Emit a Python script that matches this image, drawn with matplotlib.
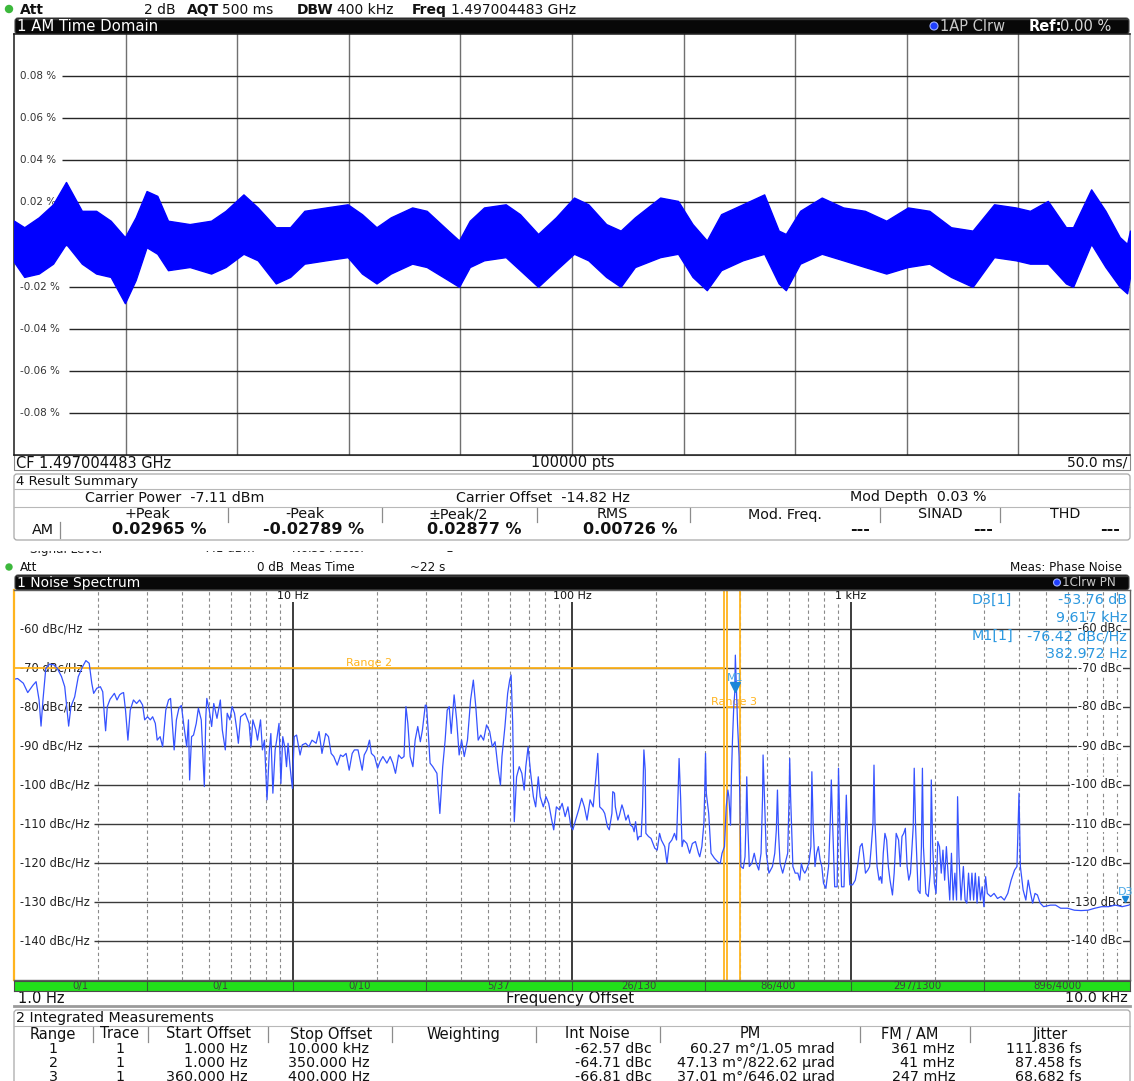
import matplotlib
matplotlib.use('Agg')
import matplotlib.pyplot as plt
from matplotlib import font_manager
from matplotlib.patches import Rectangle, FancyBboxPatch, Circle
from matplotlib.transforms import offset_copy

# ---------------- data ----------------
# AM time domain: envelope of the noisy trace (ms, % upper, % lower)
am_t = [0, 4.6, 11.1, 17.5, 23.3, 30.4, 36.8, 43.3, 49.7, 54.5,
        59.4, 64.2, 69.0, 78.7, 88.3, 94.8, 102.8, 109.2, 117.3, 123.7,
        130.1, 139.8, 149.5, 155.9, 162.4, 168.8, 178.4, 184.9, 194.5, 199.4,
        204.2, 210.6, 220.3, 226.7, 234.8, 242.8, 250.9, 257.3, 265.3, 271.8,
        278.2, 289.5, 297.5, 304.0, 310.4, 316.8, 326.5, 336.1, 342.6, 345.8,
        352.2, 361.9, 371.5, 381.2, 390.8, 400.5, 410.1, 419.8, 429.5, 439.1,
        448.8, 455.2, 463.2, 471.3, 474.5, 482.6, 489.0, 495.4, 498.7, 500]
am_hi = [0.0113, 0.0082, 0.0129, 0.0191, 0.0297, 0.0160, 0.0160, 0.0113, 0.0035, 0.0129,
         0.0254, 0.0231, 0.0113, 0.0097, 0.0113, 0.0160, 0.0238, 0.0176, 0.0082, 0.0082,
         0.0160, 0.0176, 0.0191, 0.0144, 0.0082, 0.0129, 0.0176, 0.0160, 0.0066, 0.0019,
         0.0113, 0.0176, 0.0191, 0.0144, 0.0050, 0.0129, 0.0223, 0.0191, 0.0097, 0.0066,
         0.0129, 0.0223, 0.0207, 0.0097, 0.0019, 0.0144, 0.0191, 0.0238, 0.0066, 0.0050,
         0.0160, 0.0223, 0.0176, 0.0160, 0.0113, 0.0176, 0.0160, 0.0082, 0.0066, 0.0191,
         0.0176, 0.0160, 0.0207, 0.0082, 0.0082, 0.0262, 0.0160, 0.0035, 0.0003, 0.0066]
am_lo = [-0.0083, -0.0154, -0.0138, -0.0091, 0.0003, -0.0091, -0.0138, -0.0154, -0.0279, -0.0169,
         -0.0013, -0.0044, -0.0122, -0.0107, -0.0138, -0.0107, -0.0044, -0.0075, -0.0185, -0.0154,
         -0.0091, -0.0075, -0.0060, -0.0138, -0.0185, -0.0138, -0.0091, -0.0107, -0.0169, -0.0201,
         -0.0107, -0.0075, -0.0060, -0.0122, -0.0201, -0.0122, -0.0044, -0.0075, -0.0154, -0.0201,
         -0.0107, -0.0060, -0.0044, -0.0154, -0.0217, -0.0122, -0.0075, -0.0044, -0.0185, -0.0217,
         -0.0091, -0.0044, -0.0075, -0.0107, -0.0138, -0.0107, -0.0091, -0.0154, -0.0201, -0.0060,
         -0.0075, -0.0091, -0.0091, -0.0185, -0.0201, 0.0003, -0.0107, -0.0201, -0.0232, -0.0154]
am_grid = [0.08, 0.06, 0.04, 0.02, 0.0, -0.02, -0.04, -0.06, -0.08]

# Phase noise spectrum (Hz, dBc/Hz)
pn_freq = [
    1.00, 1.03, 1.08, 1.12, 1.17, 1.20, 1.23, 1.25, 1.27, 1.30,
    1.34, 1.39, 1.43, 1.48, 1.52, 1.55, 1.57, 1.60, 1.65, 1.70,
    1.76, 1.81, 1.86, 1.90, 1.93, 1.98, 2.04, 2.08, 2.11, 2.13,
    2.16, 2.21, 2.29, 2.34, 2.39, 2.43, 2.47, 2.51, 2.56, 2.61,
    2.68, 2.75, 2.82, 2.89, 2.94, 3.01, 3.08, 3.14, 3.21, 3.26,
    3.34, 3.41, 3.50, 3.58, 3.64, 3.70, 3.75, 3.82, 3.90, 3.98,
    4.06, 4.16, 4.22, 4.26, 4.33, 4.40, 4.50, 4.58, 4.69, 4.81,
    4.87, 4.91, 5.01, 5.11, 5.20, 5.34, 5.49, 5.58, 5.72, 5.81,
    5.94, 6.05, 6.17, 6.29, 6.37, 6.49, 6.74, 6.96, 7.07, 7.18,
    7.36, 7.46, 7.65, 7.77, 7.90, 8.07, 8.23, 8.33, 8.47, 8.63,
    8.74, 8.91, 9.05, 9.19, 9.34, 9.48, 9.60, 9.76, 9.95, 10.1,
    10.3, 10.6, 10.8, 11.1, 11.4, 11.7, 12.1, 12.4, 12.7, 13.1,
    13.4, 13.7, 14.0, 14.4, 14.8, 15.1, 15.5, 15.9, 16.3, 16.6,
    17.1, 17.7, 18.0, 18.4, 18.8, 19.1, 19.6, 20.1, 20.5, 21.0,
    21.7, 22.3, 22.8, 23.3, 23.9, 24.5, 25.0, 25.4, 25.8, 26.3,
    26.9, 27.4, 28.0, 28.6, 29.1, 29.8, 30.1, 30.5, 31.0, 31.7,
    32.8, 33.6, 34.4, 35.1, 35.7, 36.3, 36.9, 37.8, 38.6, 39.4,
    40.2, 41.1, 42.2, 43.3, 44.3, 45.2, 46.1, 47.1, 48.2, 49.4,
    50.7, 51.8, 53.0, 54.4, 55.4, 56.1, 57.5, 58.8, 59.8, 60.5,
    61.3, 62.1, 63.3, 64.7, 66.1, 67.4, 68.3, 69.6, 71.1, 72.7,
    74.1, 75.7, 76.9, 78.9, 80.7, 82.5, 84.6, 86.0, 87.9, 90.2,
    92.2, 94.5, 96.7, 99.1, 100.7, 103.0, 105.6, 108.3, 110.7, 113.2,
    116.1, 119.1, 121.8, 123.7, 125.7,
    129, 131, 134, 136, 139, 140, 142, 143, 146, 148,
    151, 153, 156, 159, 162, 165, 167, 169, 172, 174,
    177, 179, 181, 183, 184, 188, 192, 198, 202, 206,
    209, 215, 219, 223, 228, 233, 237, 240, 242, 245,
    248, 251, 258, 264, 270, 277, 284, 287, 292, 297,
    299, 301, 303, 309, 315, 324, 333, 340, 345, 352,
    357, 362, 365, 370, 373, 376, 380, 383, 385, 389,
    392, 397, 400, 403, 411, 417, 421, 423, 427, 432,
    441, 450, 458, 467, 476, 482, 484, 490, 497, 508,
    523, 533, 540, 545, 550, 557, 569, 585, 593, 600,
    603, 608, 619, 631, 645, 655, 664, 673, 683, 692,
    706, 718, 724, 732, 743, 753, 764, 775, 786, 797,
    813, 831, 843, 850, 860, 874, 892, 902, 912, 925,
    944, 962, 973, 990, 1013, 1036, 1056, 1078, 1096, 1108,
    1127, 1149, 1166, 1182, 1199, 1209, 1219, 1240, 1261, 1276,
    1290, 1305, 1323, 1342, 1361, 1380, 1408, 1428, 1452, 1481,
    1502, 1523, 1545, 1566, 1589, 1611, 1634, 1671, 1685, 1704,
    1739, 1768, 1788, 1803, 1818, 1855, 1892, 1924, 1940, 1962,
    1990, 2018, 2047, 2076, 2106, 2136, 2166, 2197, 2228, 2259,
    2291, 2324, 2357, 2390, 2410, 2438, 2479, 2528, 2564, 2601,
    2638, 2675, 2713, 2751, 2790, 2830, 2871, 2911, 2952, 2994,
    3037, 3080, 3168, 3257, 3350, 3446, 3544, 3647, 3750, 3857,
    3934, 4001, 4047, 4139, 4233, 4317, 4403, 4478, 4567, 4658,
    4765, 4901, 5186, 5409, 5643, 5971, 6316, 6683, 7070, 7478,
    7913, 8371, 8855, 9370, 9911, 10000]
pn_dbc = [
    -72.9, -72.7, -73.9, -76.3, -74.4, -73.5, -78.2, -84.9, -78.2, -70.1,
    -69.0, -69.2, -70.1, -72.2, -74.8, -80.8, -84.9, -79.9, -77.4, -72.2,
    -69.7, -68.1, -68.8, -73.9, -76.5, -75.2, -74.8, -76.1, -82.5, -86.1,
    -79.9, -78.0, -76.5, -78.2, -76.9, -76.5, -76.3, -80.8, -88.5, -80.8,
    -78.2, -79.1, -78.2, -79.5, -83.3, -82.5, -83.3, -82.5, -84.2, -88.5,
    -87.6, -90.2, -80.8, -78.2, -77.8, -85.0, -91.0, -83.3, -80.3, -79.6,
    -84.6, -90.2, -83.3, -98.7, -87.6, -87.2, -84.2, -80.3, -83.3, -100.4,
    -82.5, -77.8, -80.8, -85.0, -79.1, -82.9, -78.2, -85.9, -91.0, -81.6,
    -83.3, -79.9, -81.6, -85.9, -89.3, -82.5, -81.6, -84.2, -90.2, -83.3,
    -85.9, -88.5, -83.3, -91.0, -88.5, -103.8, -91.0, -86.8, -102.1, -91.0,
    -88.5, -84.2, -99.6, -87.6, -90.2, -95.3, -89.3, -95.3, -100.9, -87.6,
    -87.2, -92.3, -89.7, -89.3, -90.2, -88.5, -89.3, -86.3, -91.9, -86.8,
    -87.6, -91.9, -92.7, -94.9, -92.3, -92.7, -91.9, -96.2, -91.9, -91.0,
    -91.0, -96.2, -92.3, -91.0, -88.5, -91.9, -92.7, -95.7, -94.0, -92.7,
    -94.4, -92.7, -94.4, -97.0, -92.3, -93.2, -92.7, -79.9, -84.2, -92.7,
    -95.3, -88.5, -85.0, -88.9, -85.9, -79.5, -79.7, -85.9, -94.4, -95.3,
    -97.0, -107.3, -95.3, -88.5, -80.8, -79.9, -86.8, -76.9, -83.3, -92.3,
    -88.5, -92.7, -88.5, -78.2, -73.1, -79.9, -88.5, -87.2, -88.5, -84.6,
    -86.3, -90.2, -88.9, -96.2, -100.0, -92.7, -85.0, -76.5, -73.1, -71.8,
    -84.2, -109.4, -97.9, -95.3, -97.0, -101.3, -95.3, -90.2, -97.0, -103.0,
    -105.6, -97.9, -103.0, -105.6, -103.0, -104.7, -109.0, -111.5, -105.6, -106.4,
    -104.7, -108.1, -105.6, -110.7, -111.5, -109.0, -106.4, -103.4, -105.6, -109.0,
    -103.8, -105.6, -97.9, -91.9, -105.6,
    -106.4, -107.3, -110.7, -111.5, -107.3, -101.7, -102.1, -105.6, -109.0, -107.7,
    -105.1, -106.4, -109.0, -107.7, -110.3, -110.7, -112.0, -109.4, -114.1, -113.2,
    -113.2, -105.6, -91.0, -96.2, -112.4, -113.2, -113.7, -116.2, -116.7, -112.4,
    -114.1, -115.8, -120.1, -115.0, -114.1, -112.4, -114.1, -102.1, -93.2, -103.0,
    -115.8, -114.1, -115.0, -117.5, -115.0, -114.5, -117.5, -118.4, -115.8, -109.8,
    -101.7, -91.9, -102.1, -107.3, -117.5, -118.8, -119.7, -120.1, -117.5, -115.8,
    -105.6, -101.3, -103.0, -110.3, -97.0, -88.5, -79.9, -76.5, -66.7, -76.5,
    -84.2, -92.7, -105.6, -120.9, -121.4, -118.4, -107.3, -97.9, -110.7, -120.9,
    -120.1, -117.5, -120.1, -121.8, -117.5, -103.0, -92.3, -103.8, -117.5, -122.6,
    -120.9, -117.5, -111.5, -101.3, -112.4, -120.1, -122.6, -119.2, -117.5, -103.0,
    -93.2, -103.8, -120.9, -122.6, -122.6, -124.4, -120.1, -121.8, -122.6, -121.8,
    -120.1, -115.8, -96.6, -110.7, -120.9, -117.5, -115.8, -119.2, -120.9, -125.2,
    -126.5, -120.9, -109.0, -98.7, -110.7, -126.1, -126.1, -95.7, -110.7, -126.1,
    -126.1, -102.6, -114.1, -125.6, -125.6, -124.4, -120.9, -115.8, -115.0, -117.5,
    -122.6, -121.8, -120.9, -115.8, -109.8, -94.9, -109.8, -120.9, -124.4, -123.5,
    -125.2, -117.5, -112.4, -114.1, -120.9, -124.4, -128.2, -122.6, -112.4, -114.1,
    -120.9, -113.2, -112.4, -111.1, -120.9, -124.4, -122.6, -110.7, -95.7, -110.7,
    -127.0, -127.8, -115.8, -95.7, -115.8, -127.8, -128.6, -122.6, -98.7, -115.8,
    -125.2, -127.8, -114.5, -115.8, -122.6, -116.7, -124.4, -115.8, -122.6, -129.5,
    -117.5, -129.5, -122.6, -129.5, -103.0, -118.4, -129.5, -120.9, -129.5, -130.3,
    -122.6, -129.5, -122.6, -129.5, -122.6, -130.3, -123.5, -129.5, -126.1, -131.2,
    -123.5, -127.8, -128.6, -127.8, -129.1, -128.6, -129.5, -127.8, -124.4, -121.8,
    -120.9, -102.1, -120.9, -126.9, -129.5, -124.4, -127.8, -130.3, -127.8, -128.2,
    -130.3, -131.2, -130.8, -130.8, -131.6, -131.6, -132.1, -132.2, -132.1, -131.6,
    -131.2, -131.2, -130.8, -131.2, -130.8, -130.6]
pn_grid = [-60, -70, -80, -90, -100, -110, -120, -130, -140]
decades = [10, 100, 1000]
decade_labels = ['10 Hz', '100 Hz', '1 kHz']

range_start = [1, 1, 360]
range_stop = [10000, 350, 400]
range_level = [-50, -70, -80]
range_names = ['Range 1', 'Range 2', 'Range 3']

m1_freq, m1_dbc = 382.972, -76.42
d3_freq, d3_delta = 9617, -53.76

seg_edges = [1, 3, 10, 30, 100, 300, 1000, 3000, 10000]
seg_labels = ['0/1', '0/1', '0/10', '5/37', '26/130', '86/400', '297/1300', '896/4000']

sum_head = ['+Peak', '-Peak', '±Peak/2', 'RMS', 'Mod. Freq.', 'SINAD', 'THD']
sum_vals = ['0.02965 %', '-0.02789 %', '0.02877 %', '0.00726 %', '---', '---', '---']

int_head = ['Range', 'Trace', 'Start Offset', 'Stop Offset', 'Weighting',
            'Int Noise', 'PM', 'FM / AM', 'Jitter']
int_range = ['1', '2', '3']
int_trace = ['1', '1', '1']
int_start = ['1.000 Hz', '1.000 Hz', '360.000 Hz']
int_stop = ['10.000 kHz', '350.000 Hz', '400.000 Hz']
int_weight = ['', '', '']
int_noise = ['-62.57 dBc', '-64.71 dBc', '-66.81 dBc']
int_pm = ['60.27 m°/1.05 mrad', '47.13 m°/822.62 µrad', '37.01 m°/646.02 µrad']
int_fmam = ['361 mHz', '41 mHz', '247 mHz']
int_jitter = ['111.836 fs', '87.458 fs', '68.682 fs']

# ---------------- figure / fonts ----------------
W, H = 1134, 1081
fig = plt.figure(figsize=(W / 100, H / 100), dpi=100)
fig.patch.set_facecolor('white')

# condensed face for the small status line of the phase noise app
NF = {'family': 'DejaVu Sans', 'fontstretch': 'condensed'}

bg = fig.add_axes([0, 0, 1, 1], zorder=0)
bg.set_xlim(0, W)
bg.set_ylim(H, 0)
bg.axis('off')
fg = fig.add_axes([0, 0, 1, 1], zorder=10)
fg.set_xlim(0, W)
fg.set_ylim(H, 0)
fg.axis('off')
fg.patch.set_alpha(0)


def px_rect(x0, y0, x1, y1):
    return [x0 / W, 1 - y1 / H, (x1 - x0) / W, (y1 - y0) / H]


def txt(ax, x, y, s, ha='left', size=10, color='#111111', weight='normal', narrow=False, **kw):
    props = dict(NF) if narrow else {'family': 'DejaVu Sans'}
    return ax.text(x, y, s, ha=ha, va='center', fontsize=size, color=color,
                   fontweight=weight, **props, **kw)


def title_bar(y0, y1):
    bg.add_patch(FancyBboxPatch((15, y0), 1114, y1 - y0,
                                boxstyle='round,pad=0,rounding_size=3',
                                fc='#080808', ec='#444444', lw=0.8))
    bg.plot([17, 1127], [y0 + 1, y0 + 1], color='#3a3a3a', lw=1.0)


# ---------------- top header ----------------
bg.add_patch(Circle((9, 9), 3.5, color='#3cb83c'))
txt(bg, 20, 10, 'Att', size=10, weight='bold')
txt(bg, 176, 10, '2 dB', ha='right', size=10)
txt(bg, 187, 10, 'AQT', size=10, weight='bold')
txt(bg, 222, 10, '500 ms', size=10)
txt(bg, 297, 10, 'DBW', size=10, weight='bold')
txt(bg, 337, 10, '400 kHz', size=10)
txt(bg, 412, 10, 'Freq', size=10, weight='bold')
txt(bg, 451, 10, '1.497004483 GHz', size=10)

title_bar(18, 34)
txt(bg, 17, 26.5, '1 AM Time Domain', size=10.7, color='white')
bg.add_patch(Circle((934, 26), 4, fc='#2040ff', ec='#9fb0ff', lw=0.8))
txt(bg, 940, 26.5, '1AP Clrw', size=10.5, color='#c8c8c8')
txt(bg, 1029, 26.5, 'Ref:', size=10.5, color='white', weight='bold')
txt(bg, 1060, 26.5, '0.00 %', size=10.5, color='#d8d8d8')

# ---------------- AM time domain plot ----------------
ax1 = fig.add_axes(px_rect(14, 34, 1130, 455), zorder=1)
ax1.set_xlim(0, 500)
ax1.set_ylim(-0.1, 0.1)
ax1.tick_params(which='both', length=0, labelbottom=False, labelleft=False)
for sp in ax1.spines.values():
    sp.set_color('#1a1a1a')
    sp.set_linewidth(1.1)
ax1.spines['right'].set_color('#9a9a9a')
for k in range(1, 10):
    ax1.axvline(k * 50, color='#707070', lw=1.0, zorder=1)
ytr = ax1.get_yaxis_transform()
for v in am_grid:
    lab = '0 %' if v == 0 else f'{v:.2f} %'
    start = 0.022 if v == 0 else (0.043 if v > 0 else 0.049)
    ax1.hlines(v, start, 1, transform=ytr, color='#262626', lw=1.0, zorder=1)
    ax1.text(0.0054, v, lab, transform=ytr, va='center', ha='left',
             fontsize=7.5, color='#333333', zorder=1.5)
ax1.fill_between(am_t, am_lo, am_hi, color='#0000ff', edgecolor='#0000ff',
                 lw=1.0, zorder=3)

# CF row
bg.add_patch(Rectangle((14, 455), 1116, 15, fc='white', ec='#8a8a8a', lw=0.8))
txt(bg, 16, 463, 'CF 1.497004483 GHz', size=10.5)
txt(bg, 573, 463, '100000 pts', ha='center', size=10.5)
txt(bg, 1127, 463, '50.0 ms/', ha='right', size=10)

# ---------------- result summary ----------------
bg.add_patch(FancyBboxPatch((14, 474), 1116, 66, boxstyle='round,pad=0,rounding_size=3',
                            fc='white', ec='#a8a8a8', lw=0.9))
bg.plot([14, 1130], [488.5, 488.5], color='#b8b8b8', lw=0.8)
bg.plot([14, 1130], [506.5, 506.5], color='#b8b8b8', lw=0.8)
txt(bg, 16, 482, '4 Result Summary', size=9.5)
txt(bg, 85, 497.5, 'Carrier Power  -7.11 dBm', size=10.3)
txt(bg, 456, 497.5, 'Carrier Offset  -14.82 Hz', size=10.3)
txt(bg, 850, 497.5, 'Mod Depth  0.03 %', size=10.3)
head_x = [147, 305, 458, 612, 785, 940, 1065]
for x, s in zip(head_x, sum_head):
    txt(bg, x, 514.5, s, ha='center', size=10.3)
for x in [228, 382, 537, 690, 880, 1000]:
    bg.plot([x, x], [508, 522], color='#8c8c8c', lw=0.9)
txt(bg, 32, 530, 'AM', ha='left', size=10.3)
bg.plot([60, 60], [522, 538], color='#8c8c8c', lw=0.9)
val_x = [159, 314, 474, 630, 870, 993, 1120]
val_ha = ['center', 'center', 'center', 'center', 'right', 'right', 'right']
for x, ha, s in zip(val_x, val_ha, sum_vals):
    txt(bg, x, 529.5, s, ha=ha, size=11.5, weight='bold')

# ---------------- noise spectrum header ----------------
txt(bg, 30, 549, 'Signal Level', size=9.5, color='#222222', narrow=True)
txt(bg, 255, 549, '-7.1 dBm', ha='right', size=9.5, color='#222222', narrow=True)
txt(bg, 292, 549, 'Noise Factor', size=9.5, color='#222222', narrow=True)
txt(bg, 446, 549, '1', size=9.5, color='#222222', narrow=True)
bg.add_patch(Rectangle((0, 541), W, 9.5, fc='white', ec='none', zorder=3))

bg.add_patch(Circle((9, 567), 3, color='#3cb83c'))
txt(bg, 20, 567.5, 'Att', size=9.5, narrow=True)
txt(bg, 284, 567.5, '0 dB', ha='right', size=9.5, narrow=True)
txt(bg, 290, 567.5, 'Meas Time', size=9.5, narrow=True)
txt(bg, 410, 567.5, '~22 s', size=9.5, narrow=True)
txt(bg, 1122, 567.5, 'Meas: Phase Noise', ha='right', size=9.5, narrow=True)

title_bar(575, 590)
txt(bg, 17, 583, '1 Noise Spectrum', size=10, color='white')
bg.add_patch(Circle((1057, 582.5), 3.5, fc='#2040ff', ec='#9fb0ff', lw=0.8))
txt(bg, 1062, 583, '1Clrw PN', size=9.5, color='#c8c8c8', narrow=True)

# ---------------- noise spectrum plot ----------------
OR = '#ffb41e'
ax2 = fig.add_axes(px_rect(14, 590, 1130, 980), zorder=1)
ax2.set_xscale('log')
ax2.set_xlim(1, 1e4)
ax2.set_ylim(-150, -50)
ax2.tick_params(which='both', length=0, labelbottom=False, labelleft=False)
for sp in ax2.spines.values():
    sp.set_color('#606060')
    sp.set_linewidth(1.0)
    sp.set_zorder(6)
ax2.spines['left'].set_color(OR)
ax2.spines['left'].set_linewidth(1.6)

for d in [1, 10, 100, 1000]:
    for k in range(2, 10):
        ax2.axvline(k * d, color='#8a8a8a', lw=0.8, ls=(0, (3, 2.5)), zorder=1)
for d in decades:
    ax2.axvline(d, color='#3c3c3c', lw=1.4, zorder=1.2)
xtr = ax2.get_xaxis_transform()
for d, lab in zip(decades, decade_labels):
    ax2.text(d, 0.984, lab, transform=xtr, ha='center', va='center', fontsize=8,
             color='#111111', zorder=2,
             bbox=dict(fc='white', ec='none', pad=0.6))

ytr2 = ax2.get_yaxis_transform()
for v in pn_grid:
    left_end = 0.066 if v > -100 else 0.072
    ax2.hlines(v, left_end, 1, transform=ytr2, color='#3a3a3a', lw=1.0, zorder=1.1)
    ax2.text(0.0054, v, f'{v} dBc/Hz', transform=ytr2, ha='left', va='center',
             fontsize=8.3, color='#222222', zorder=1.5)
    ax2.text(0.9928, v, f'{v} dBc', transform=ytr2, ha='right', va='center',
             fontsize=8.3, color='#222222', zorder=1.5,
             bbox=dict(fc='white', ec='none', pad=0.8))

for s, e, lv in zip(range_start, range_stop, range_level):
    for f in (s, e):
        if 1 < f < 1e4:
            ax2.axvline(f, color=OR, lw=1.3, zorder=3)
    ax2.hlines(lv, s, e, color=OR, lw=1.3, zorder=3)
ax2.text(18.7, -68.7, range_names[1], ha='center', va='center', fontsize=8, color=OR, zorder=3)
ax2.text(381, -78.7, range_names[2], ha='center', va='center', fontsize=8, color=OR, zorder=3)

ax2.plot(pn_freq, pn_dbc, color='#3552ff', lw=0.9, zorder=4)

MC = '#2b98e0'
ax2.plot([m1_freq], [m1_dbc], marker='v', ms=7, color='#1a86d8', ls='none', zorder=7,
         transform=offset_copy(ax2.transData, fig=fig, x=0, y=4, units='points'))
ax2.text(m1_freq, m1_dbc, 'M1', ha='center', va='center', fontsize=8, color='#45a6e6',
         zorder=7, transform=offset_copy(ax2.transData, fig=fig, x=0, y=11, units='points'))
d3_dbc = m1_dbc + d3_delta
ax2.plot([d3_freq], [d3_dbc], marker='v', ms=5, color='#1a86d8', ls='none', zorder=7,
         transform=offset_copy(ax2.transData, fig=fig, x=0, y=2.5, units='points'))
ax2.text(d3_freq, d3_dbc, 'D3', ha='center', va='center', fontsize=8, color='#45a6e6',
         zorder=7, transform=offset_copy(ax2.transData, fig=fig, x=0, y=7.5, units='points'))

# marker readout
txt(fg, 972, 600, 'D3[1]', size=10.3, color=MC)
txt(fg, 1127, 600, f'{d3_delta:.2f} dB', ha='right', size=10.3, color=MC)
txt(fg, 1127, 618, f'{d3_freq / 1000:.3f} kHz', ha='right', size=10.3, color=MC)
txt(fg, 972, 636, 'M1[1]', size=10.3, color=MC)
txt(fg, 1127, 636, f'{m1_dbc:.2f} dBc/Hz', ha='right', size=10.3, color=MC)
txt(fg, 1127, 654, f'{m1_freq:.3f} Hz', ha='right', size=10.3, color=MC)

# green segment bar
axg = fig.add_axes(px_rect(14, 981, 1130, 991), zorder=1)
axg.set_xscale('log')
axg.set_xlim(1, 1e4)
axg.set_ylim(0, 1)
axg.set_facecolor('#22e01a')
axg.tick_params(which='both', length=0, labelbottom=False, labelleft=False)
for sp in axg.spines.values():
    sp.set_color('#4a4a4a')
    sp.set_linewidth(0.8)
for e in seg_edges[1:-1]:
    axg.axvline(e, color='#2f6a2f', lw=0.8)
for a, b, lab in zip(seg_edges[:-1], seg_edges[1:], seg_labels):
    axg.text((a * b) ** 0.5, 0.45, lab, ha='center', va='center', fontsize=7.3,
             color='#404040', family='DejaVu Sans')

txt(bg, 18, 998.5, '1.0 Hz', size=10.5)
txt(bg, 570, 998.5, 'Frequency Offset', ha='center', size=10.8)
txt(bg, 1128, 998.5, '10.0 kHz', ha='right', size=10.3)
bg.plot([14, 1130], [1006, 1006], color='#9a9a9a', lw=2.0)

# ---------------- integrated measurements ----------------
bg.add_patch(FancyBboxPatch((14, 1010), 1116, 90, boxstyle='round,pad=0,rounding_size=3',
                            fc='white', ec='#a8a8a8', lw=0.9))
bg.plot([14, 1130], [1026, 1026], color='#b8b8b8', lw=0.8)
txt(bg, 16, 1018, '2 Integrated Measurements', size=10.3)
int_hx = [53, 120, 208, 331, 463, 597, 750, 910, 1050]
for x, s in zip(int_hx, int_head):
    txt(bg, x, 1034, s, ha='center', size=10.5)
for x in [93, 148, 268, 392, 536, 660, 860, 970]:
    bg.plot([x, x], [1027, 1042], color='#8c8c8c', lw=0.9)

cols = [(int_range, 53, 'center'), (int_trace, 120, 'center'), (int_start, 248, 'right'),
        (int_stop, 288, 'left'), (int_weight, 463, 'center'), (int_noise, 652, 'right'),
        (int_pm, 835, 'right'), (int_fmam, 955, 'right'), (int_jitter, 1082, 'right')]
row_y = [1049, 1063, 1077]
for vals, x, ha in cols:
    for y, s in zip(row_y, vals):
        txt(bg, x, y, s, ha=ha, size=10.3)

fig.savefig('out.png', dpi=100, facecolor='white')
